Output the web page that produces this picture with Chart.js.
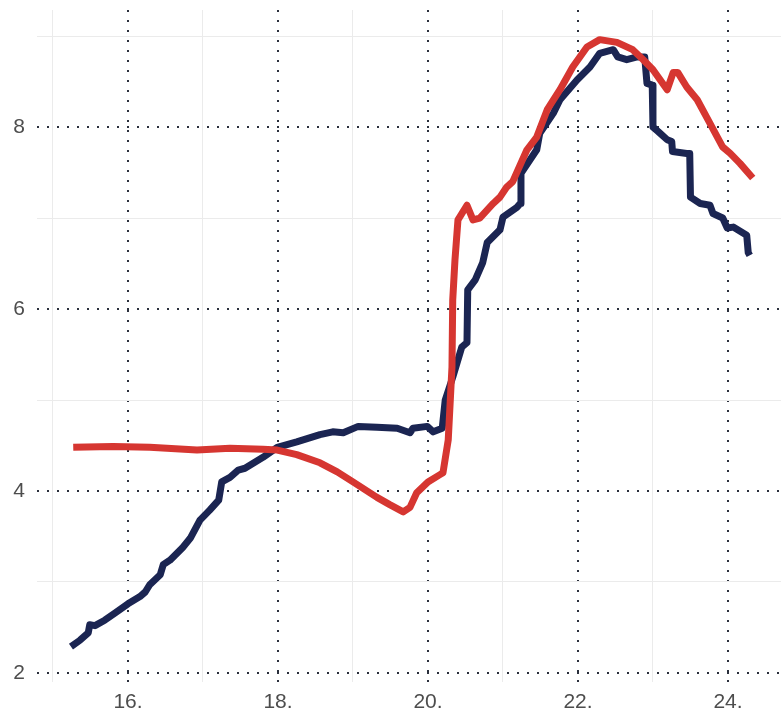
<!DOCTYPE html>
<html>
<head>
<meta charset="utf-8">
<script src="https://cdn.jsdelivr.net/npm/chart.js@4/dist/chart.umd.min.js"></script>
<style>
html,body{margin:0;padding:0;background:#fff;}
#wrap{width:781px;height:713px;}
</style>
</head>
<body>
<div id="wrap"><canvas id="c" width="781" height="713"></canvas></div>
<script>
// navy series
const navyX = [15.24,15.36,15.47,15.49,15.56,15.69,15.83,16.00,16.16,16.23,16.29,16.43,16.47,16.56,16.73,16.83,16.96,17.09,17.21,17.25,17.36,17.47,17.56,17.80,17.99,18.25,18.56,18.73,18.87,19.07,19.32,19.59,19.76,19.80,19.99,20.07,20.19,20.23,20.33,20.45,20.52,20.53,20.63,20.73,20.79,20.96,21.00,21.19,21.23,21.24,21.45,21.49,21.67,21.76,21.99,22.16,22.29,22.47,22.53,22.65,22.79,22.89,22.92,22.99,23.00,23.07,23.19,23.25,23.26,23.45,23.49,23.50,23.63,23.76,23.80,23.93,23.99,24.07,24.25,24.27,24.29];
const navyY = [2.29,2.36,2.44,2.53,2.52,2.58,2.66,2.76,2.84,2.89,2.97,3.08,3.19,3.24,3.38,3.48,3.68,3.79,3.90,4.10,4.15,4.23,4.25,4.37,4.48,4.54,4.62,4.65,4.64,4.71,4.70,4.69,4.64,4.69,4.71,4.65,4.69,5.00,5.25,5.58,5.63,6.21,6.32,6.51,6.73,6.87,7.01,7.12,7.16,7.49,7.75,7.93,8.15,8.30,8.52,8.66,8.81,8.85,8.77,8.74,8.77,8.77,8.48,8.46,8.00,7.95,7.86,7.84,7.73,7.71,7.71,7.23,7.16,7.14,7.05,7.00,6.89,6.90,6.81,6.62,6.59];
// red series
const redX = [15.27,15.80,16.29,16.92,17.36,17.80,17.99,18.25,18.56,18.79,19.00,19.32,19.49,19.67,19.76,19.85,20.00,20.16,20.20,20.27,20.32,20.33,20.36,20.40,20.52,20.60,20.69,20.87,20.96,21.05,21.13,21.32,21.45,21.59,21.76,21.93,22.12,22.29,22.52,22.73,22.87,23.00,23.19,23.27,23.33,23.45,23.59,23.76,23.93,24.03,24.16,24.33];
const redY = [4.48,4.49,4.48,4.45,4.47,4.46,4.45,4.40,4.31,4.21,4.10,3.93,3.85,3.77,3.82,3.98,4.10,4.18,4.20,4.56,5.36,6.10,6.54,6.98,7.14,6.98,7.00,7.16,7.23,7.34,7.40,7.75,7.89,8.19,8.41,8.66,8.88,8.96,8.93,8.85,8.74,8.63,8.41,8.60,8.60,8.44,8.30,8.04,7.78,7.71,7.60,7.44];

const xMajorTicks = [16,18,20,22,24];
const xMinorTicks = [15,17,19,21,23];
const yMajorTicks = [2,4,6,8];
const yMinorTicks = [3,5,7,9];

const xMin = 14.787, xMax = 24.707, yMin = 1.901, yMax = 9.286;

const pts = (xs, ys) => xs.map((x, i) => ({x: x, y: ys[i]}));

const FONT = {family: '"Liberation Sans", Arial, sans-serif', size: 21};
const DOT = '#2b303c';
const MINOR = '#ebebeb';
const noPad = a => { a.paddingTop = 0; a.paddingBottom = 0; a.paddingLeft = 0; a.paddingRight = 0; };

new Chart(document.getElementById('c'), {
  type: 'line',
  data: {
    datasets: [
      {data: pts(redX, redY), borderColor: '#d63631', borderWidth: 7, pointRadius: 0, tension: 0, borderJoinStyle: 'round', xAxisID: 'x', yAxisID: 'y'},
      {data: pts(navyX, navyY), borderColor: '#1b2552', borderWidth: 7, pointRadius: 0, tension: 0, borderJoinStyle: 'round', xAxisID: 'x', yAxisID: 'y'}
    ]
  },
  options: {
    responsive: false,
    animation: false,
    layout: {padding: {top: 10, right: 0, left: 0, bottom: 0}},
    plugins: {legend: {display: false}, tooltip: {enabled: false}},
    scales: {
      xm: {
        type: 'linear', position: 'bottom', min: xMin, max: xMax,
        afterBuildTicks: a => { a.ticks = xMinorTicks.map(v => ({value: v})); },
        afterFit: a => { a.height = 0; noPad(a); },
        ticks: {display: false},
        grid: {color: MINOR, lineWidth: 1, drawTicks: false},
        border: {display: false}
      },
      x: {
        type: 'linear', position: 'bottom', min: xMin, max: xMax,
        afterBuildTicks: a => { a.ticks = xMajorTicks.map(v => ({value: v})); },
        afterFit: a => { a.height = 31; noPad(a); },
        ticks: {color: '#4d4d4d', font: FONT, padding: 8, maxRotation: 0, autoSkip: false, callback: v => v + '.'},
        grid: {color: DOT, lineWidth: 2, drawTicks: false},
        border: {display: false, dash: [2, 8]}
      },
      ym: {
        type: 'linear', position: 'left', min: yMin, max: yMax,
        afterBuildTicks: a => { a.ticks = yMinorTicks.map(v => ({value: v})); },
        afterFit: a => { a.width = 0; noPad(a); },
        ticks: {display: false},
        grid: {color: MINOR, lineWidth: 1, drawTicks: false},
        border: {display: false}
      },
      y: {
        type: 'linear', position: 'left', min: yMin, max: yMax,
        afterBuildTicks: a => { a.ticks = yMajorTicks.map(v => ({value: v})); },
        afterFit: a => { a.width = 37; noPad(a); },
        ticks: {color: '#4d4d4d', font: FONT, padding: 12, autoSkip: false},
        grid: {color: DOT, lineWidth: 2, drawTicks: false},
        border: {display: false, dash: [2, 8]}
      }
    }
  }
});
</script>
</body>
</html>
